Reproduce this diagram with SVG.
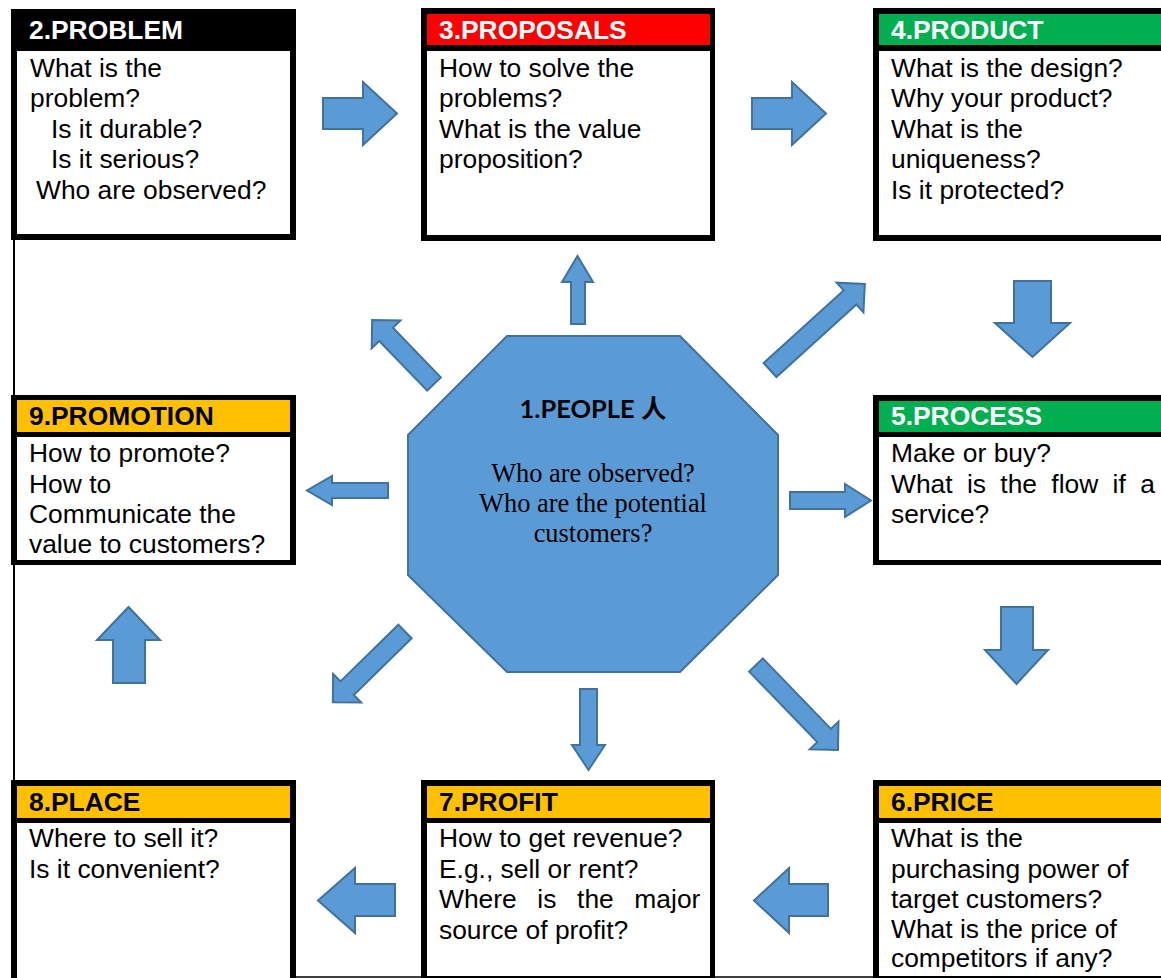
<svg xmlns="http://www.w3.org/2000/svg" width="1161" height="978" viewBox="0 0 1161 978">
<style>
.hdr{font-family:"Liberation Sans",Arial,sans-serif;font-weight:bold;font-size:26.4px}
.hw{fill:#fff}
.hb{fill:#000}
.txt{font-family:"Liberation Sans",Arial,sans-serif;font-size:26.4px;fill:#000}
.frame{fill:#000}
.bg{fill:#fff}
.arr{fill:#5B9BD5;stroke:#41719C;stroke-width:2}
.oct{fill:#5B9BD5;stroke:#41719C;stroke-width:2}
.ptitle{font-family:Lato,"Noto Sans CJK SC",sans-serif;font-weight:bold;font-size:25.5px;fill:#000}
.ptxt{font-family:"Liberation Serif","Times New Roman",serif;font-size:26.4px;fill:#000}
</style>
<rect width="1161" height="978" fill="#fff"/>
<line x1="14" y1="9" x2="14" y2="978" stroke="#000" stroke-width="2"/>
<line x1="296" y1="977" x2="1161" y2="977" stroke="#000" stroke-width="1.5"/>

<g id="connectors">
<polygon class="arr" points="323,98 363,98 363,82 397,113.5 363,145 363,129 323,129"/>
<polygon class="arr" points="752,98 792,98 792,82 826,113.5 792,145 792,129 752,129"/>
<polygon class="arr" points="1014,281 1051,281 1051,323 1070,323 1032.5,357 995,323 1014,323"/>
<polygon class="arr" points="1001,607 1033,607 1033,650 1048,650 1016.5,684 985,650 1001,650"/>
<polygon class="arr" points="828,884 789,884 789,868 754,900.5 789,933 789,916 828,916"/>
<polygon class="arr" points="395,884 355,884 355,868 318,900.5 355,933 355,916 395,916"/>
<polygon class="arr" points="113,683 113,640 97,640 128.5,607 160,640 145,640 145,683"/>
<polygon class="arr" points="571,324 571,282 562,282 577.5,256 593,282 585,282 585,324"/>
<polygon class="arr" points="580,689 597,689 597,745 605,745 588.5,770 572,745 580,745"/>
<polygon class="arr" points="790,492 845,492 845,484 871,500.5 845,517 845,509 790,509"/>
<polygon class="arr" points="388,483 332,483 332,476 307,490.5 332,505 332,498 388,498"/>
<polygon class="arr" transform="translate(770,370) rotate(-42.2)" points="0,-9.5 108,-9.5 108,-20 128,0 108,20 108,9.5 0,9.5"/>
<polygon class="arr" transform="translate(405,631.5) rotate(135.6)" points="0,-9.5 81,-9.5 81,-20 101,0 81,20 81,9.5 0,9.5"/>
<polygon class="arr" transform="translate(434,384) rotate(-134)" points="0,-9.5 69,-9.5 69,-20 89,0 69,20 69,9.5 0,9.5"/>
<polygon class="arr" transform="translate(756,665) rotate(46)" points="0,-9.5 98,-9.5 98,-20 118,0 98,20 98,9.5 0,9.5"/>
</g>

<g id="node1">
<polygon class="oct" points="507,336 680,336 778,435 778,575 680,672 507,672 408,575 408,435"/>
<text class="ptitle" x="593" y="418" text-anchor="middle">1.PEOPLE 人</text>
<text class="ptxt" x="593" y="482" text-anchor="middle">Who are observed?</text>
<text class="ptxt" x="593" y="512" text-anchor="middle">Who are the potential</text>
<text class="ptxt" x="593" y="542" text-anchor="middle">customers?</text>
</g>

<g id="node2">
<rect class="frame" x="11" y="9" width="285" height="231"/>
<rect class="bg" x="17" y="51" width="273" height="183"/>
<text class="hdr hw" x="29" y="39">2.PROBLEM</text>
<text class="txt" x="30" y="76.5">What is the</text>
<text class="txt" x="30" y="107">problem?</text>
<text class="txt" x="51" y="137.5">Is it durable?</text>
<text class="txt" x="51" y="168">Is it serious?</text>
<text class="txt" x="36" y="198.5">Who are observed?</text>
</g>

<g id="node3">
<rect class="frame" x="421" y="8" width="294" height="233"/>
<rect x="427" y="14" width="283" height="31" fill="#FF0000"/>
<rect class="bg" x="427" y="51" width="283" height="184"/>
<text class="hdr hw" x="439" y="39">3.PROPOSALS</text>
<text class="txt" x="439" y="76.5">How to solve the</text>
<text class="txt" x="439" y="107">problems?</text>
<text class="txt" x="439" y="137.5">What is the value</text>
<text class="txt" x="439" y="168">proposition?</text>
</g>

<g id="node4">
<rect class="frame" x="873" y="8" width="300" height="233"/>
<rect x="879" y="14" width="290" height="31" fill="#00B050"/>
<rect class="bg" x="879" y="51" width="290" height="184"/>
<text class="hdr hw" x="891" y="39">4.PRODUCT</text>
<text class="txt" x="891" y="76.5">What is the design?</text>
<text class="txt" x="891" y="107">Why your product?</text>
<text class="txt" x="891" y="137.5">What is the</text>
<text class="txt" x="891" y="168">uniqueness?</text>
<text class="txt" x="891" y="198.5">Is it protected?</text>
</g>

<g id="node5">
<rect class="frame" x="873" y="395" width="300" height="170"/>
<rect x="879" y="401" width="290" height="31" fill="#00B050"/>
<rect class="bg" x="879" y="437" width="290" height="123"/>
<text class="hdr hw" x="891" y="425">5.PROCESS</text>
<text class="txt" x="891" y="462">Make or buy?</text>
<text class="txt" x="891" y="492.5" word-spacing="7">What is the flow if a</text>
<text class="txt" x="891" y="523">service?</text>
</g>

<g id="node6">
<rect class="frame" x="873" y="780" width="300" height="210"/>
<rect x="879" y="786" width="290" height="32" fill="#FFC000"/>
<rect class="bg" x="879" y="823" width="290" height="153"/>
<text class="hdr hb" x="891" y="811">6.PRICE</text>
<text class="txt" x="891" y="847">What is the</text>
<text class="txt" x="891" y="877.5">purchasing power of</text>
<text class="txt" x="891" y="907.5">target customers?</text>
<text class="txt" x="891" y="937.5">What is the price of</text>
<text class="txt" x="891" y="967">competitors if any?</text>
</g>

<g id="node7">
<rect class="frame" x="421" y="780" width="294" height="210"/>
<rect x="427" y="786" width="283" height="32" fill="#FFC000"/>
<rect class="bg" x="427" y="823" width="283" height="153"/>
<text class="hdr hb" x="439" y="811">7.PROFIT</text>
<text class="txt" x="439" y="847">How to get revenue?</text>
<text class="txt" x="439" y="877.5">E.g., sell or rent?</text>
<text class="txt" x="439" y="908" word-spacing="13.3">Where is the major</text>
<text class="txt" x="439" y="938.5">source of profit?</text>
</g>

<g id="node8">
<rect class="frame" x="11" y="780" width="285" height="210"/>
<rect x="17" y="786" width="273" height="32" fill="#FFC000"/>
<rect class="bg" x="17" y="823" width="273" height="160"/>
<text class="hdr hb" x="29" y="811">8.PLACE</text>
<text class="txt" x="29" y="847">Where to sell it?</text>
<text class="txt" x="29" y="877.5">Is it convenient?</text>
</g>

<g id="node9">
<rect class="frame" x="11" y="395" width="285" height="170"/>
<rect x="17" y="400" width="273" height="32" fill="#FFC000"/>
<rect class="bg" x="17" y="437" width="273" height="123"/>
<text class="hdr hb" x="29" y="425">9.PROMOTION</text>
<text class="txt" x="29" y="462">How to promote?</text>
<text class="txt" x="29" y="492.5">How to</text>
<text class="txt" x="29" y="523">Communicate the</text>
<text class="txt" x="29" y="553">value to customers?</text>
</g>
</svg>
